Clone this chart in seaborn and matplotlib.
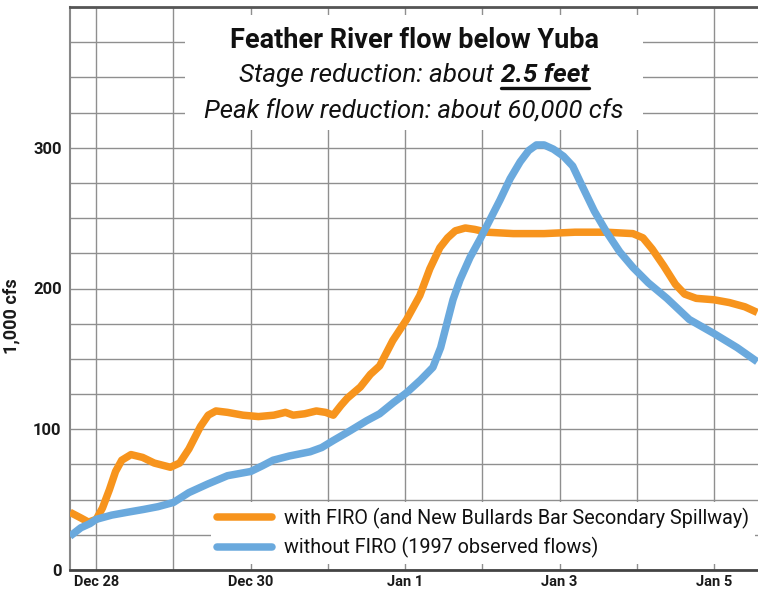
import numpy as np
import pandas as pd
import matplotlib
matplotlib.use("Agg")
import matplotlib.pyplot as plt
from matplotlib.patches import Rectangle
from matplotlib.lines import Line2D
from matplotlib.ticker import MultipleLocator, FixedLocator
import seaborn as sns

# days after Dec 28 (0 = Dec 28), flow in 1,000 cfs
firo_day = [-0.34, -0.2, -0.1, 0.0, 0.08, 0.17, 0.25, 0.33, 0.45, 0.6, 0.75, 0.96,
            1.08, 1.2, 1.35, 1.45, 1.55, 1.7, 1.9, 2.1, 2.3, 2.45, 2.55, 2.7, 2.85,
            2.97, 3.07, 3.17, 3.25, 3.42, 3.55, 3.67, 3.84, 4.02, 4.19, 4.32, 4.45,
            4.55, 4.65, 4.78, 4.9, 5.06, 5.4, 5.8, 6.2, 6.6, 6.95, 7.08, 7.2, 7.35,
            7.5, 7.62, 7.77, 8.0, 8.2, 8.4, 8.56]
firo_flow = [41, 37, 34, 36, 44, 57, 70, 78, 82, 80, 76, 73,
             76, 86, 102, 110, 113, 112, 110, 109, 110, 112, 110, 111, 113,
             112, 110, 117, 122, 130, 139, 145, 163, 178, 195, 214, 229,
             236, 241, 243, 242, 240, 239, 239, 240, 240, 239, 236, 228, 216,
             203, 196, 193, 192, 190, 187, 183]

obs_day = [-0.34, -0.2, -0.08, 0.0, 0.2, 0.4, 0.61, 0.8, 1.0, 1.2, 1.44, 1.7, 2.0,
           2.15, 2.29, 2.5, 2.77, 2.92, 3.07, 3.29, 3.5, 3.67, 3.85, 4.02, 4.2,
           4.36, 4.46, 4.54, 4.62, 4.71, 4.84, 4.97, 5.1, 5.23, 5.36, 5.49, 5.6,
           5.7, 5.8, 5.92, 6.05, 6.17, 6.3, 6.45, 6.61, 6.78, 6.95, 7.15, 7.39,
           7.68, 8.0, 8.3, 8.56]
obs_flow = [24, 30, 33, 36, 39, 41, 43, 45, 48, 55, 61, 67, 70,
            74, 78, 81, 84, 87, 92, 99, 106, 111, 119, 126, 135,
            144, 158, 175, 192, 206, 222, 235, 249, 263, 278, 290, 298,
            302, 302, 299, 294, 287, 272, 255, 240, 226, 215, 204, 193,
            178, 168, 158, 148]

label_firo = "with FIRO (and New Bullards Bar Secondary Spillway)"
label_obs = "without FIRO (1997 observed flows)"
tick_days = [0, 2, 4, 6, 8]
tick_labels = ["Dec 28", "Dec 30", "Jan 1", "Jan 3", "Jan 5"]
y_ticks = [0, 100, 200, 300]

df = pd.concat([
    pd.DataFrame({"day": firo_day, "flow": firo_flow, "series": label_firo}),
    pd.DataFrame({"day": obs_day, "flow": obs_flow, "series": label_obs}),
])

sns.set_style("white")
plt.rcParams["font.family"] = ["Roboto", "DejaVu Sans"]

W, H = 758, 592
fig = plt.figure(figsize=(W / 100, H / 100), dpi=100)
ax = fig.add_axes([70 / W, 22 / H, 688 / W, 563 / H])

orange = "#F7941D"
blue = "#6AA9DD"
sns.lineplot(data=df, x="day", y="flow", hue="series", sort=False,
             palette={label_firo: orange, label_obs: blue},
             linewidth=5.4, ax=ax, legend=False, zorder=3)
for ln in ax.lines:
    ln.set_solid_capstyle("butt")
    ln.set_solid_joinstyle("round")

ax.set_xlim(-0.34, 8.57)
ax.set_ylim(0, 400)

ax.xaxis.set_major_locator(FixedLocator(tick_days))
ax.xaxis.set_minor_locator(MultipleLocator(1))
ax.set_xticklabels(tick_labels)
ax.yaxis.set_major_locator(FixedLocator(y_ticks))
ax.yaxis.set_minor_locator(MultipleLocator(25))

ax.set_axisbelow(True)
ax.grid(which="both", color="#8f8f8f", linewidth=1.0)
ax.tick_params(axis="x", which="both", direction="out", length=3, width=1,
               color="#777777", pad=0.5, labelsize=10.5)
ax.tick_params(axis="y", which="both", length=0, pad=6, labelsize=12)
for lab in ax.get_xticklabels() + ax.get_yticklabels():
    lab.set_fontweight("bold")
    lab.set_color("#1a1a1a")

ax.set_xlabel("")
ax.set_ylabel("1,000 cfs", fontsize=13, fontweight="bold", color="#1a1a1a")
ax.yaxis.set_label_coords(-50 / 688, 0.451)

ax.spines["right"].set_visible(False)
ax.spines["top"].set_color("#555555")
ax.spines["top"].set_linewidth(2)
ax.spines["bottom"].set_color("#444444")
ax.spines["bottom"].set_linewidth(2)
ax.spines["left"].set_color("#888888")
ax.spines["left"].set_linewidth(1.5)

# white box behind the title text
ax.add_patch(Rectangle((0.167, 0.781), 0.666, 0.205, transform=ax.transAxes,
                       facecolor="white", edgecolor="none", zorder=1))

cx = (70 + 688 / 2) / W
ax.text(0.5, 0.941, "Feather River flow below Yuba", transform=ax.transAxes,
        ha="center", va="center", fontsize=19.5, fontweight="bold", color="#111111", zorder=4)
ax.text(0.5, 0.815, "Peak flow reduction: about 60,000 cfs", transform=ax.transAxes,
        ha="center", va="center", fontsize=18.5, fontstyle="italic", color="#111111", zorder=4)

# second line: italic part + bold underlined part, centred together
y2 = 22 / H + 0.879 * 563 / H
fs2 = 18.8
t1 = fig.text(0, y2, "Stage reduction: about", ha="left", va="center",
              fontsize=fs2, fontstyle="italic", color="#111111", zorder=4)
t2 = fig.text(0, y2, "2.5 feet", ha="left", va="center",
              fontsize=fs2, fontstyle="italic", fontweight="bold", color="#111111", zorder=4)
r = fig.canvas.get_renderer()
w1 = t1.get_window_extent(r).width
w2 = t2.get_window_extent(r).width
gap = 7
x0 = cx * W - (w1 + gap + w2) / 2
t1.set_x(x0 / W)
t2.set_x((x0 + w1 + gap) / W)
bb = t2.get_window_extent(r)
fig.add_artist(Line2D([bb.x0 / W, bb.x1 / W], [(bb.y0 - 1) / H, (bb.y0 - 1) / H],
                      color="#111111", linewidth=2.4))

handles = [Line2D([], [], color=orange, linewidth=5.4),
           Line2D([], [], color=blue, linewidth=5.4)]
leg = ax.legend(handles, [label_firo, label_obs], loc="lower left",
                bbox_to_anchor=(0.205, 0.01), fontsize=14.2, frameon=True,
                handlelength=2.8, handletextpad=0.6, labelspacing=0.45,
                borderpad=0.3, borderaxespad=0)
leg.get_frame().set_facecolor("white")
leg.get_frame().set_edgecolor("none")
leg.get_frame().set_alpha(1)
leg.set_zorder(5)
for t in leg.get_texts():
    t.set_color("#111111")

fig.savefig("out.png", dpi=100)
